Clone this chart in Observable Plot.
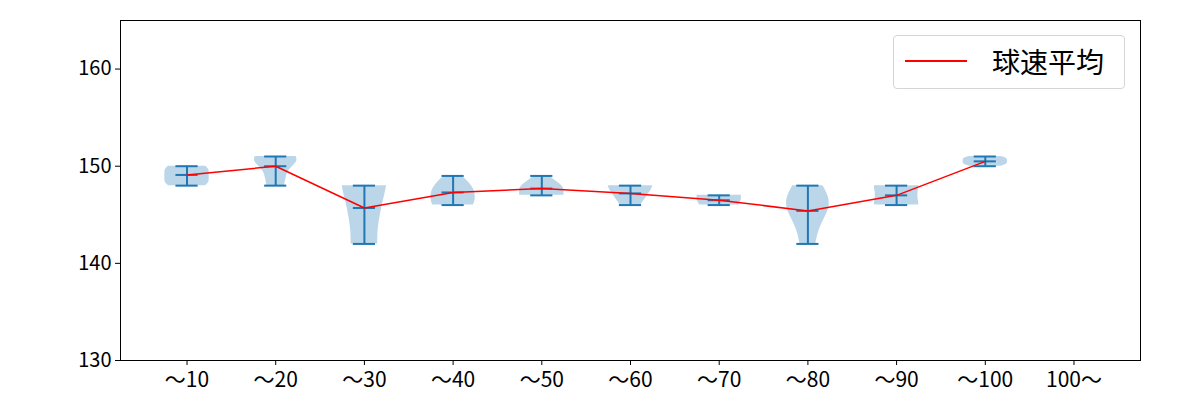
<!DOCTYPE html>
<html>
<head>
<meta charset="utf-8">
<script src="https://cdn.jsdelivr.net/npm/d3@7"></script>
<script src="https://cdn.jsdelivr.net/npm/@observablehq/plot@0.6"></script>
<style>
  body { margin: 0; background: #fff; font-family: "Noto Sans CJK JP", sans-serif; }
  #wrap { position: relative; width: 1200px; height: 400px; }
  #legend { position: absolute; left: 893px; top: 35px; width: 232px; height: 54px;
    border: 1px solid #d5d5d5; border-radius: 4px; background: rgba(255,255,255,0.8);
    box-sizing: border-box; }
  #legend .sw { position: absolute; left: 11px; top: 24px; width: 62px; height: 1.5px; background: #ff0000; }
  #legend .tx { position: absolute; left: 98px; top: 6px; font-size: 28px; line-height: 38px; color: #000; white-space: nowrap; }
</style>
</head>
<body>
<div id="wrap"><div id="chart"></div><div id="legend"><div class="sw"></div><div class="tx">球速平均</div></div></div>
<script>
const categories = ["〜10", "〜20", "〜30", "〜40", "〜50", "〜60", "〜70", "〜80", "〜90", "〜100", "100〜"];
const vMin  = [148, 148, 142, 146, 147, 146, 146, 142, 146, 150, null];
const vMax  = [150, 151, 148, 149, 149, 148, 147, 148, 148, 151, null];
const vMean = [149.1, 150.0, 145.7, 147.3, 147.7, 147.2, 146.5, 145.4, 147.0, 150.5, null];
// half-widths of each violin at 7 evenly spaced levels from min to max
const profW = [
  [0.21, 0.25, 0.25, 0.25, 0.25, 0.25, 0.21],
  [0.10, 0.11, 0.12, 0.14, 0.19, 0.25, 0.23],
  [0.15, 0.15, 0.16, 0.18, 0.20, 0.23, 0.25],
  [0.23, 0.25, 0.25, 0.24, 0.21, 0.16, 0.10],
  [0.25, 0.25, 0.25, 0.23, 0.18, 0.13, 0.09],
  [0.12, 0.14, 0.17, 0.19, 0.22, 0.24, 0.25],
  [0.22, 0.23, 0.24, 0.25, 0.25, 0.25, 0.25],
  [0.09, 0.11, 0.15, 0.21, 0.25, 0.23, 0.17],
  [0.25, 0.25, 0.24, 0.24, 0.24, 0.25, 0.25],
  [0.18, 0.24, 0.25, 0.25, 0.25, 0.24, 0.18],
  null
];
const yTicks = [130, 140, 150, 160];

const stats = categories.map((c, i) => ({cat: c, pos: i + 1, min: vMin[i], max: vMax[i], mean: vMean[i]}))
  .filter(d => d.min != null);
const profile = [];
stats.forEach(d => {
  const w = profW[d.pos - 1];
  w.forEach((hw, k) => profile.push({cat: d.cat, pos: d.pos, y: d.min + k * (d.max - d.min) / (w.length - 1), w: hw}));
});
const caps = stats.flatMap(d => [
  {pos: d.pos, v: d.min}, {pos: d.pos, v: d.max}, {pos: d.pos, v: d.mean}
]);
const blue = "#1f77b4";

const chart = Plot.plot({
  width: 1200, height: 400,
  marginLeft: 120, marginRight: 60, marginTop: 20, marginBottom: 40,
  style: {fontFamily: "'Noto Sans CJK JP', sans-serif", fontSize: "20px", color: "#000", background: "#fff"},
  x: {domain: [0.25, 11.75], label: null, axis: null},
  y: {domain: [130, 165], ticks: yTicks, tickSize: 5, tickPadding: 4, label: null},
  marks: [
    Plot.axisX({ticks: d3.range(1, 12), tickFormat: d => categories[d - 1], tickSize: 5, tickPadding: 7, fontSize: 21, label: null}),
    Plot.areaX(profile, {y: "y", x1: d => d.pos - d.w, x2: d => d.pos + d.w, z: "cat", fill: blue, fillOpacity: 0.3, curve: "basis"}),
    Plot.ruleX(stats, {x: "pos", y1: "min", y2: "max", stroke: blue, strokeWidth: 2}),
    Plot.ruleY(caps, {y: "v", x1: d => d.pos - 0.125, x2: d => d.pos + 0.125, stroke: blue, strokeWidth: 2}),
    Plot.line(stats, {x: "pos", y: "mean", stroke: "red", strokeWidth: 1.5}),
    Plot.frame({stroke: "#000", strokeWidth: 1})
  ]
});
document.getElementById("chart").appendChild(chart);
</script>
</body>
</html>
